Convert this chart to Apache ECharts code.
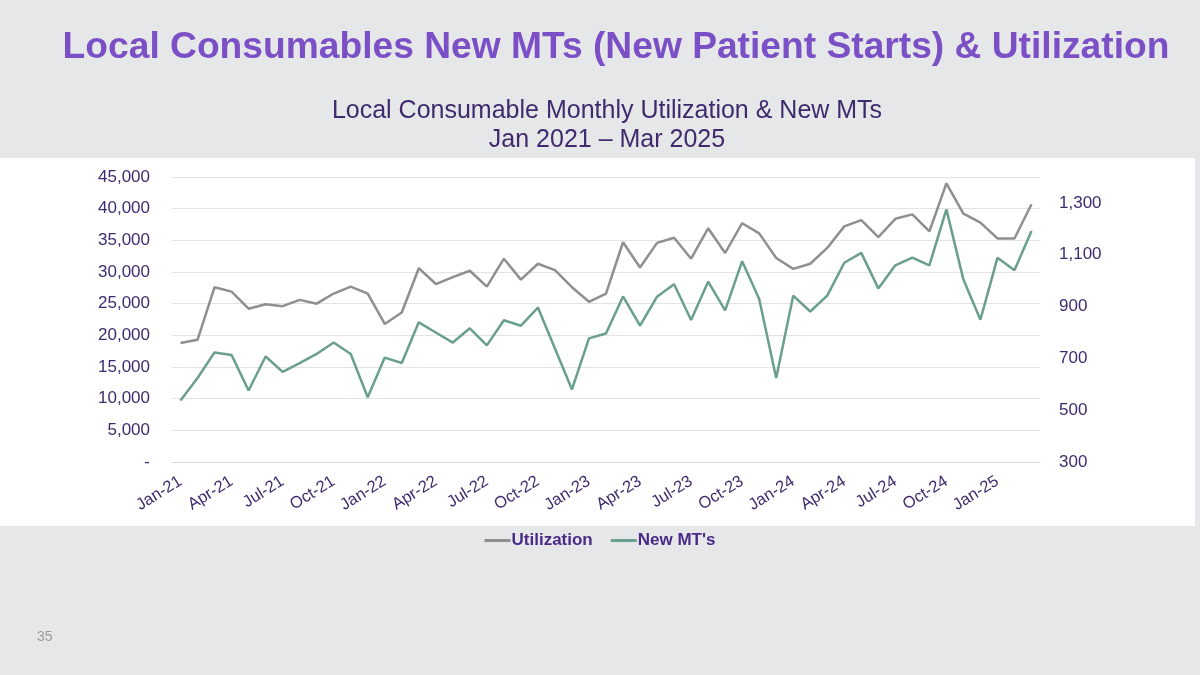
<!DOCTYPE html>
<html>
<head>
<meta charset="utf-8">
<script src="https://cdn.jsdelivr.net/npm/echarts@6/dist/echarts.min.js"></script>
<style>
  html, body { margin: 0; padding: 0; background: #e6e7e9; }
  #chart { width: 1200px; height: 675px; }
</style>
</head>
<body>
<div id="chart"></div>
<script>
const months = ['Jan-21','Feb-21','Mar-21','Apr-21','May-21','Jun-21','Jul-21','Aug-21','Sep-21','Oct-21','Nov-21','Dec-21',
  'Jan-22','Feb-22','Mar-22','Apr-22','May-22','Jun-22','Jul-22','Aug-22','Sep-22','Oct-22','Nov-22','Dec-22',
  'Jan-23','Feb-23','Mar-23','Apr-23','May-23','Jun-23','Jul-23','Aug-23','Sep-23','Oct-23','Nov-23','Dec-23',
  'Jan-24','Feb-24','Mar-24','Apr-24','May-24','Jun-24','Jul-24','Aug-24','Sep-24','Oct-24','Nov-24','Dec-24',
  'Jan-25','Feb-25','Mar-25']
const utilization = [18800,19300,27600,26900,24200,24900,24600,25600,25000,26600,27700,26600,
  21800,23600,30600,28100,29200,30200,27700,32100,28800,31300,30300,27600,
  25300,26600,34700,30700,34600,35400,32100,36900,33000,37700,36100,32200,
  30500,31300,33800,37200,38200,35500,38400,39100,36400,44000,39200,37800,
  35300,35300,40700]
const newMTs = [537,624,723,713,576,707,648,682,717,761,717,550,
  703,682,839,800,761,816,750,847,826,896,738,580,
  777,796,939,826,938,986,848,996,885,1075,929,624,
  942,881,942,1069,1107,970,1059,1089,1059,1275,1004,849,
  1088,1040,1192]

const font = '"Liberation Sans", Arial, sans-serif'
const labelColor = '#3f2a6e'

function thousandSeparator(num) {
  return num.toString().replace(/\B(?=(\d{3})+(?!\d))/g, ',')
}

var chart = echarts.init(document.getElementById('chart'))
var option = {
  backgroundColor: '#e6e7e9',
  textStyle: { fontFamily: font },
  graphic: [
    { type: 'rect', z: -10, shape: { x: 0, y: 158, width: 1195, height: 368 }, style: { fill: '#ffffff' } },
    { type: 'text', left: 37, top: 630, style: { text: '35', fill: '#9a9a9a', fontSize: 14, fontFamily: font } }
  ],
  title: [
    {
      text: 'Local Consumables New MTs (New Patient Starts) & Utilization',
      left: 611, top: 24, textAlign: 'center',
      textStyle: { color: '#7b50c7', fontSize: 37.2, fontWeight: 'bold', fontFamily: font }
    },
    {
      text: 'Local Consumable Monthly Utilization & New MTs\nJan 2021 \u2013 Mar 2025',
      left: 602, top: 92, textAlign: 'center',
      textStyle: { color: labelColor, fontSize: 25, fontWeight: 'normal', lineHeight: 29, fontFamily: font }
    }
  ],
  legend: {
    top: 527, left: 'center',
    icon: 'rect', itemWidth: 26, itemHeight: 3, itemGap: 18,
    textStyle: { color: '#4a2a86', fontSize: 17, fontWeight: 'bold', fontFamily: font, padding: [0, 0, 0, -4] },
    data: ['Utilization', "New MT's"]
  },
  grid: { left: 172, right: 160, top: 177, bottom: 213 },
  xAxis: {
    type: 'category',
    data: months,
    axisLine: { lineStyle: { color: '#d9d9d9', width: 1 } },
    axisTick: { interval: 2, length: 5, lineStyle: { color: '#d9d9d9' } },
    axisLabel: { interval: 2, rotate: 32, color: labelColor, fontSize: 16.5, margin: 18 }
  },
  yAxis: [
    {
      type: 'value', min: 0, max: 45000, interval: 5000,
      axisLine: { show: false }, axisTick: { show: false },
      splitLine: { lineStyle: { color: '#e3e3e3', width: 1 } },
      axisLabel: { color: labelColor, fontSize: 17, margin: 22, formatter: v => v == 0 ? '-' : thousandSeparator(v) }
    },
    {
      type: 'value', min: 300, max: 1400, interval: 200,
      axisLine: { show: false }, axisTick: { show: false }, splitLine: { show: false },
      axisLabel: { color: labelColor, fontSize: 17, margin: 19, showMaxLabel: false, formatter: v => thousandSeparator(v) }
    }
  ],
  series: [
    {
      name: 'Utilization', type: 'line', data: utilization, yAxisIndex: 0,
      symbol: 'none', color: '#8f8f8f', lineStyle: { width: 2.5 }
    },
    {
      name: "New MT's", type: 'line', data: newMTs, yAxisIndex: 1,
      symbol: 'none', color: '#6a9f8f', lineStyle: { width: 2.5 }
    }
  ]
}
chart.setOption(option)
</script>
</body>
</html>
